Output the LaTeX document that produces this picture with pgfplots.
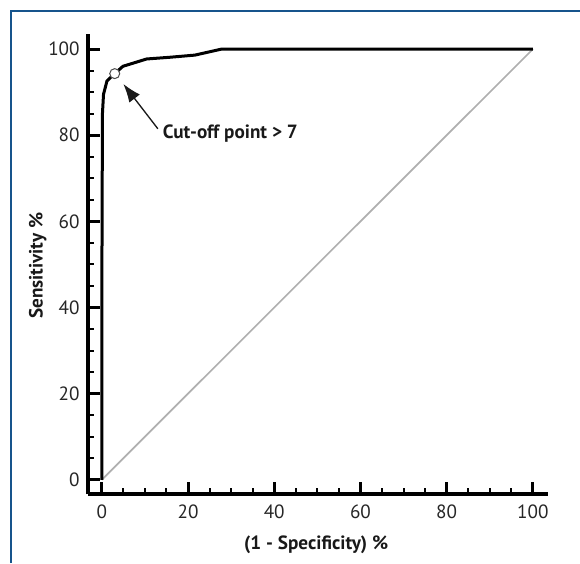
\documentclass[border=0pt]{standalone}
\usepackage{fontspec}
\setmainfont{PT Sans}
\usepackage{pgfplots}
\pgfplotsset{compat=1.18}
\usetikzlibrary{arrows.meta}
\definecolor{frameblue}{RGB}{22,84,140}
\definecolor{diag}{RGB}{175,175,175}
\begin{document}
\begin{tikzpicture}
\begin{axis}[
  scale only axis,
  width=276pt, height=276pt,
  xmin=-3.2, xmax=103.5, ymin=-3.3, ymax=103.5,
  axis lines=left,
  axis line style={-, line width=2.2pt},
  xtick={0,20,...,100}, ytick={0,20,...,100},
  minor tick num=3,
  tick align=inside,
  major tick length=7.2pt, minor tick length=3.6pt,
  major tick style={line width=1.8pt, black},
  minor tick style={line width=1.2pt, black},
  tick label style={font=\fontsize{11.5}{13}\selectfont, text=black!85},
  /pgf/number format/assume math mode=true,
  xticklabel style={yshift=-3pt},
  yticklabel style={xshift=-1.5pt},
  xlabel={(1 - Specificity) \%}, ylabel={Sensitivity \%},
  label style={font=\bfseries\fontsize{11.5}{13}\selectfont, text=black!90},
  xlabel style={at={(axis description cs:0.496,-0.111)}, anchor=center},
  ylabel style={at={(axis description cs:-0.109,0.496)}, anchor=center},
  clip=false,
]
% chance line
\addplot[diag, line width=1pt] coordinates {(0,0) (100,100)};
% ROC curve
\addplot[black, line width=1.8pt, line join=round] coordinates {
  (0,0) (0,40) (0.1,70) (0.15,85) (0.4,89.5) (1.2,92.6) (3,94.3)
  (4.9,96) (10.4,97.7) (15.8,98.1) (21.6,98.6) (27.8,100) (100,100)
};
% cut-off point
\addplot[only marks, mark=*, mark size=3pt,
  mark options={fill=white, draw=black!70, line width=0.6pt}]
  coordinates {(3,94.3)};
\draw[-{Latex[length=11pt,width=8pt]}, line width=0.8pt, black!90]
  (axis cs:13,81.5) -- (axis cs:5,91.9);
\node[anchor=base west, inner sep=0pt, font=\bfseries\fontsize{11.5}{13}\selectfont, text=black!90]
  at (axis cs:14.1,79.3) {Cut-off point > 7};
\coordinate (O) at (rel axis cs:0,0);
\end{axis}
\path[use as bounding box] (O) ++(-52.8pt,-41.4pt) rectangle ++(348pt,337.8pt);
\draw[frameblue, line width=1.5pt] (O) ++(-46.2pt,-41.4pt) -- ++(0,331.2pt) -- ++(342pt,0);
\end{tikzpicture}
\end{document}
